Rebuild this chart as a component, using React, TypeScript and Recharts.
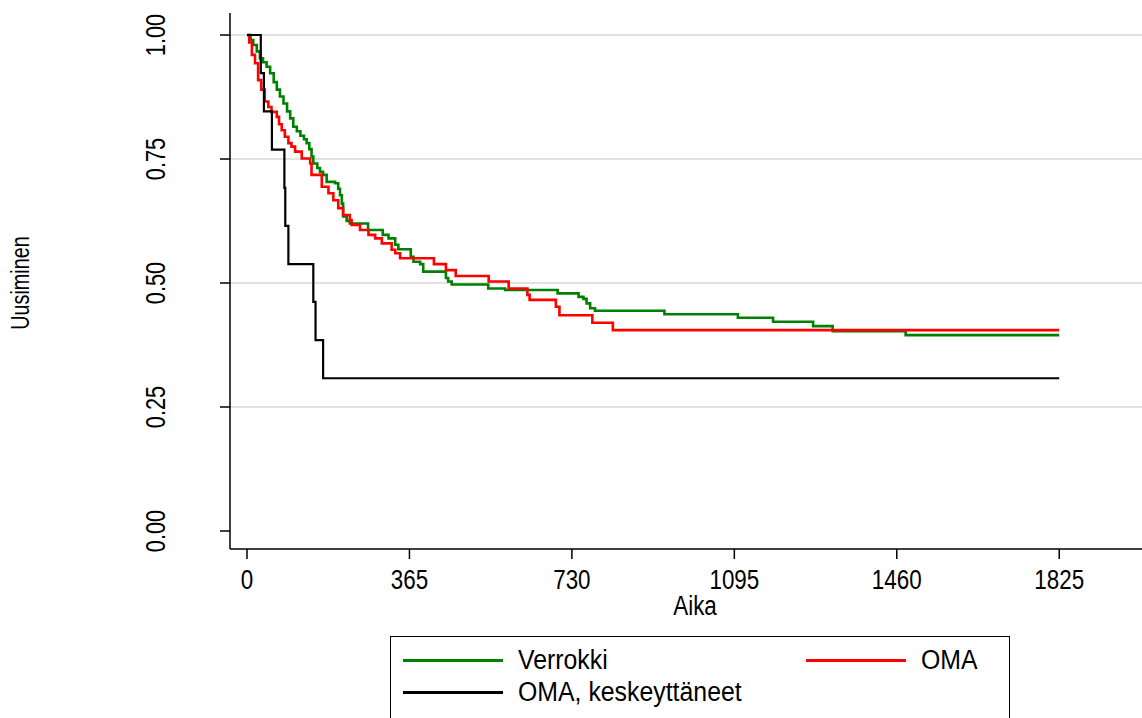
import { LineChart, Line, XAxis, YAxis, ReferenceLine } from "recharts";

// Kaplan-Meier style survival estimates
const dayTicks = [0, 365, 730, 1095, 1460, 1825];
const levelTicks = [0, 0.25, 0.5, 0.75, 1];
const gridLevels = [0.25, 0.5, 0.75, 1];

const verrokki: [number, number][] = [
  [0, 1.0], [8, 0.99], [14, 0.98], [22, 0.967], [29, 0.953], [36, 0.945],
  [44, 0.936], [52, 0.923], [60, 0.905], [67, 0.89], [74, 0.876], [82, 0.862],
  [90, 0.846], [97, 0.832], [104, 0.815], [112, 0.806], [120, 0.797], [128, 0.79],
  [134, 0.782], [140, 0.77], [145, 0.755], [149, 0.741], [158, 0.732], [164, 0.724],
  [171, 0.718], [179, 0.704], [198, 0.701], [205, 0.69], [209, 0.677], [213, 0.66],
  [216, 0.634], [224, 0.625], [231, 0.62], [272, 0.607], [305, 0.597], [318, 0.59],
  [333, 0.577], [340, 0.568], [368, 0.553], [374, 0.543], [389, 0.538], [396, 0.523],
  [447, 0.51], [452, 0.503], [460, 0.497], [542, 0.489], [580, 0.486], [698, 0.479],
  [745, 0.472], [756, 0.468], [763, 0.459], [771, 0.449], [782, 0.444], [938, 0.437],
  [1103, 0.43], [1182, 0.422], [1272, 0.413], [1316, 0.403], [1480, 0.395], [1825, 0.395],
];

const oma: [number, number][] = [
  [0, 1.0], [5, 0.985], [11, 0.96], [18, 0.943], [25, 0.909], [32, 0.89],
  [40, 0.866], [48, 0.855], [55, 0.845], [67, 0.835], [72, 0.82], [78, 0.808],
  [85, 0.795], [93, 0.782], [100, 0.775], [108, 0.765], [123, 0.751], [142, 0.741],
  [145, 0.718], [168, 0.694], [183, 0.681], [194, 0.667], [205, 0.651], [216, 0.637],
  [231, 0.627], [235, 0.617], [254, 0.607], [273, 0.597], [288, 0.59], [303, 0.58],
  [325, 0.567], [333, 0.56], [344, 0.55], [420, 0.538], [447, 0.526], [469, 0.514],
  [543, 0.503], [588, 0.489], [630, 0.476], [635, 0.466], [694, 0.452], [702, 0.435],
  [776, 0.42], [822, 0.405], [1825, 0.405],
];

const keskeyttaneet: [number, number][] = [
  [0, 1.0], [31, 0.923], [38, 0.846], [56, 0.769], [84, 0.692], [86, 0.615],
  [93, 0.538], [149, 0.462], [154, 0.385], [171, 0.308], [1825, 0.308],
];

const series = [
  { name: "Verrokki", color: "#008000", width: 2.6, points: verrokki },
  { name: "OMA", color: "#ff0000", width: 2.6, points: oma },
  { name: "OMA, keskeyttäneet", color: "#000000", width: 2.2, points: keskeyttaneet },
];

const FONT = "'Liberation Sans', Arial, sans-serif";

// Stata's text comes out tall and narrow, so the glyphs are squeezed along the reading direction
const XTick = ({ x, y, payload }: any) => (
  <text
    transform={`translate(${x} ${y}) scale(0.8 1)`}
    textAnchor="middle"
    dy={30}
    fontSize={28}
    fontFamily={FONT}
    fill="#000"
  >
    {payload.value}
  </text>
);

const YTick = ({ x, y, payload }: any) => (
  <text
    transform={`translate(${x - 55} ${y}) rotate(-90) scale(0.78 1)`}
    textAnchor="middle"
    fontSize={28}
    fontFamily={FONT}
    fill="#000"
  >
    {Number(payload.value).toFixed(2)}
  </text>
);

function LegendBox() {
  const item = (s: (typeof series)[number]) => (
    <div key={s.name} style={{ display: "flex", alignItems: "center", height: 32 }}>
      <div style={{ width: 100, height: 3, background: s.color, marginRight: 15, flex: "none" }} />
      <span style={{ display: "inline-block", transform: "scaleX(0.92)", transformOrigin: "left center", whiteSpace: "nowrap" }}>
        {s.name}
      </span>
    </div>
  );
  return (
    <div
      style={{
        position: "absolute",
        left: 390,
        top: 636,
        width: 620,
        height: 120,
        border: "1px solid #000",
        boxSizing: "border-box",
        padding: "7px 0 0 12px",
        display: "grid",
        gridTemplateColumns: "403px 1fr",
        gridAutoRows: "32px",
        alignContent: "start",
        fontFamily: FONT,
        fontSize: 27,
        lineHeight: "32px",
        color: "#000",
      }}
    >
      {series.map(item)}
    </div>
  );
}

export default function App() {
  return (
    <div
      style={{
        position: "absolute",
        left: 0,
        top: 0,
        width: 1142,
        height: 718,
        overflow: "hidden",
        background: "#fff",
      }}
    >
      <LineChart width={1142} height={718} margin={{ top: 13, right: 0, bottom: 109, left: 0 }}>
        <XAxis
          type="number"
          dataKey="t"
          domain={[-38.2, 2011]}
          allowDataOverflow
          ticks={dayTicks}
          interval={0}
          height={60}
          tickSize={10}
          tickMargin={0}
          stroke="#000"
          strokeWidth={1.5}
          tick={<XTick />}
          label={{
            content: () => (
              <text
                transform="translate(695 615) scale(0.8 1)"
                textAnchor="middle"
                fontSize={28}
                fontFamily={FONT}
                fill="#000"
              >
                Aika
              </text>
            ),
          }}
        />
        <XAxis
          xAxisId="top"
          orientation="top"
          type="number"
          domain={[-38.2, 2011]}
          height={0}
          tick={false}
          tickLine={false}
          stroke="#000"
          strokeWidth={1.5}
        />
        <YAxis
          type="number"
          domain={[-0.0363, 1.0444]}
          allowDataOverflow
          ticks={levelTicks}
          interval={0}
          width={230}
          tickSize={10}
          tickMargin={0}
          stroke="#000"
          strokeWidth={1.5}
          tick={<YTick />}
          label={{
            content: () => (
              <text
                transform="translate(29 283) rotate(-90) scale(0.76 1)"
                textAnchor="middle"
                fontSize={26}
                fontFamily={FONT}
                fill="#000"
              >
                Uusiminen
              </text>
            ),
          }}
        />
        {gridLevels.map((v) => (
          <ReferenceLine key={v} y={v} stroke="#e1e1e1" strokeWidth={2} />
        ))}
        {series.map((s) => (
          <Line
            key={s.name}
            name={s.name}
            data={s.points.map(([t, v]) => ({ t, s: v }))}
            dataKey="s"
            type="stepAfter"
            stroke={s.color}
            strokeWidth={s.width}
            dot={false}
            activeDot={false}
            isAnimationActive={false}
          />
        ))}
      </LineChart>
      <LegendBox />
    </div>
  );
}
